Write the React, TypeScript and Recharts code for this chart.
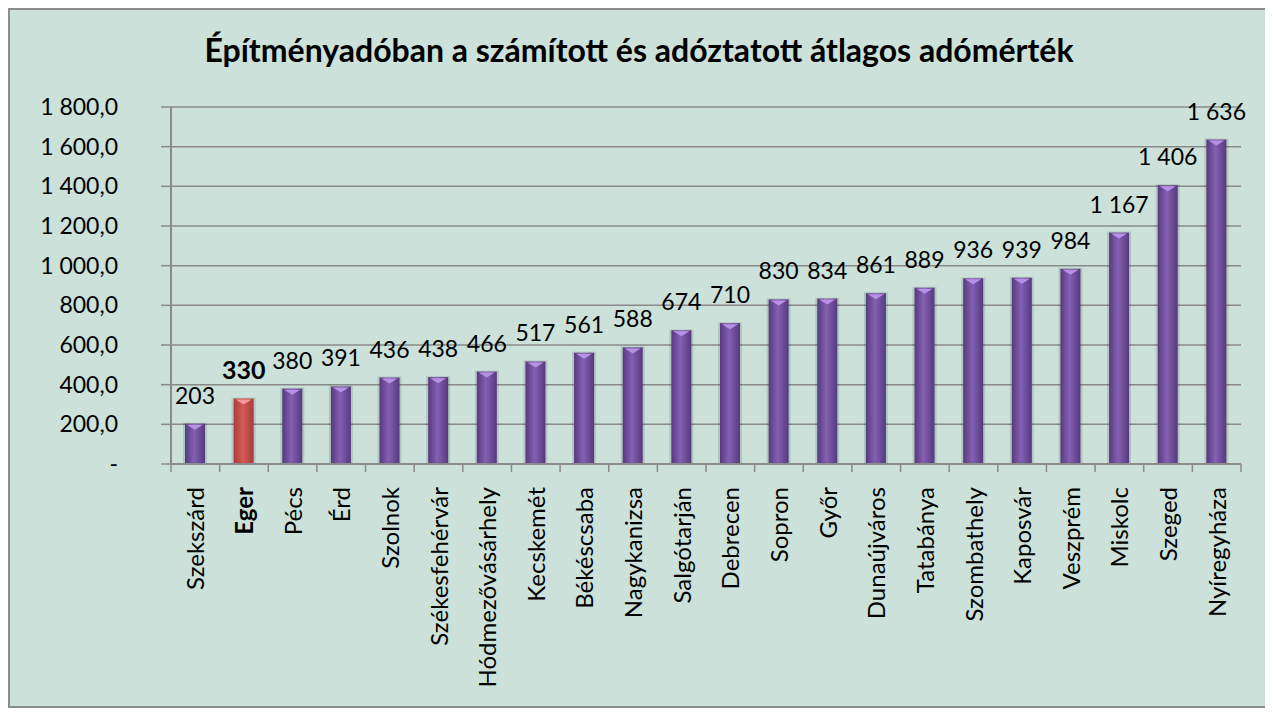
import { BarChart, Bar, XAxis, YAxis, CartesianGrid, LabelList, Cell } from "recharts"

const cities = [
  "Szekszárd", "Eger", "Pécs", "Érd", "Szolnok", "Székesfehérvár", "Hódmezővásárhely",
  "Kecskemét", "Békéscsaba", "Nagykanizsa", "Salgótarján", "Debrecen", "Sopron", "Győr",
  "Dunaújváros", "Tatabánya", "Szombathely", "Kaposvár", "Veszprém", "Miskolc", "Szeged", "Nyíregyháza",
]
const values = [203, 330, 380, 391, 436, 438, 466, 517, 561, 588, 674, 710, 830, 834, 861, 889, 936, 939, 984, 1167, 1406, 1636]
const highlighted = "Eger"
const yTicks = [0, 200, 400, 600, 800, 1000, 1200, 1400, 1600, 1800]

const data = cities.map((city, i) => ({ city, value: values[i] }))

const FONT = "Lato, 'Open Sans', sans-serif"
const GRID = "#8a8a8a"

const withSpace = (n: number) => String(n).replace(/\B(?=(\d{3})+(?!\d))/g, " ")
const yFmt = (v: number) => (v === 0 ? "-" : withSpace(v) + ",0")

function BarShape(props: any) {
  const { x, y, width, height, payload } = props
  const red = payload.city === highlighted
  const fill = red ? "url(#gRed)" : "url(#gPurple)"
  const hi = red ? "#f29a98" : "#b890e6"
  return (
    <g>
      <rect x={x - 2} y={y - 1} width={width + 4} height={height + 1} fill="#000" opacity={0.12} />
      <rect x={x} y={y} width={width} height={height} fill={fill} />
      <polygon points={`${x + 2},${y + 1} ${x + width - 2},${y + 1} ${x + width / 2},${y + 6}`} fill={hi} />
    </g>
  )
}

function ValueLabel(props: any) {
  const { x, y, width, value, index } = props
  const bold = cities[index] === highlighted
  return (
    <text x={x + width / 2} y={y - 20} textAnchor="middle" fontFamily={FONT}
      fontSize={bold ? 25 : 23} fontWeight={bold ? 700 : 400} fill="#000">
      {withSpace(value)}
    </text>
  )
}

const BAND = 1070 / cities.length

function CityTick(props: any) {
  const { x, y, payload, index } = props
  const bold = payload.value === highlighted
  return (
    <g>
      <line x1={x - BAND / 2} y1={y - 8} x2={x - BAND / 2} y2={y} stroke={GRID} strokeWidth={1.5} />
      {index === cities.length - 1 && (
        <line x1={x + BAND / 2} y1={y - 8} x2={x + BAND / 2} y2={y} stroke={GRID} strokeWidth={1.5} />
      )}
      <text x={0} y={0} transform={`translate(${x + 9},${y + 15}) rotate(-90)`} textAnchor="end"
        fontFamily={FONT} fontSize={24} fontWeight={bold ? 700 : 400} fill="#000">
        {payload.value}
      </text>
    </g>
  )
}

export default function App() {
  return (
    <div style={{ position: "relative", width: 1258, height: 696, border: "2px solid #8c8c8c", background: "#cbe1d9" }}>
      <div style={{ position: "absolute", left: 0, right: 0, top: 20, textAlign: "center", fontFamily: FONT, fontWeight: 700, fontSize: 32, color: "#000" }}>
        Építményadóban a számított és adóztatott átlagos adómérték
      </div>
      <BarChart width={1258} height={696} data={data} margin={{ top: 97, right: 27, bottom: 0, left: 0 }} barCategoryGap="0%">
        <defs>
          <linearGradient id="gPurple" x1="0" y1="0" x2="1" y2="0">
            <stop offset="0%" stopColor="#553a7e" />
            <stop offset="45%" stopColor="#8560b3" />
            <stop offset="100%" stopColor="#553a7e" />
          </linearGradient>
          <linearGradient id="gRed" x1="0" y1="0" x2="1" y2="0">
            <stop offset="0%" stopColor="#a83c3a" />
            <stop offset="45%" stopColor="#d45a57" />
            <stop offset="100%" stopColor="#a83c3a" />
          </linearGradient>
        </defs>
        <CartesianGrid vertical={false} stroke={GRID} strokeWidth={1.5} />
        <XAxis dataKey="city" interval={0} height={242} tickLine={false} axisLine={{ stroke: GRID, strokeWidth: 2 }} tick={<CityTick />} />
        <YAxis domain={[0, 1800]} ticks={yTicks} width={161} tickFormatter={yFmt} tickSize={10}
          tickLine={{ stroke: GRID, strokeWidth: 1.5 }} axisLine={{ stroke: GRID, strokeWidth: 2 }}
          tick={{ fill: "#000", fontSize: 23, fontFamily: FONT, dx: -41 }} />
        <Bar dataKey="value" barSize={20} shape={<BarShape />} isAnimationActive={false}>
          {data.map((d) => <Cell key={d.city} />)}
          <LabelList dataKey="value" content={<ValueLabel />} />
        </Bar>
      </BarChart>
    </div>
  )
}
